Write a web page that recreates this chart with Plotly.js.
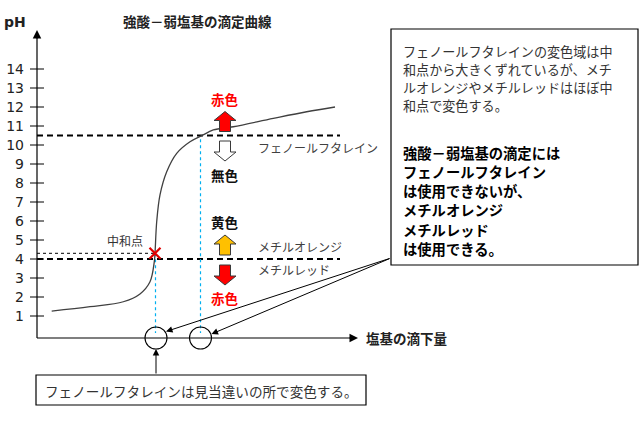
<!DOCTYPE html>
<html><head><meta charset="utf-8">
<script src="https://cdn.plot.ly/plotly-3.0.1.min.js"></script>
<style>html,body{margin:0;padding:0;background:#fff}#c{width:640px;height:430px}</style>
</head><body><div id="c"></div>
<script>
// ---- data ----
const volume = [1.47, 5.3, 8.63, 10.3, 11.3, 11.73, 11.8, 11.97, 12.3, 12.97, 13.97, 15.3, 16.47, 17.63, 19.63, 23.63, 26.97, 29.8];
const pHvals = [1.26, 1.49, 1.75, 2.16, 2.80, 3.86, 4.3, 5.96, 7.37, 8.59, 9.56, 10.17, 10.49, 10.79, 10.96, 11.4, 11.75, 12.0];
const eqVolume = 11.8, eqPH = 4.3;
const phenolVolume = 16.35;
const phenolPH = 10.5, methylPH = 4.0;
const lineEnd = 30.3;
const pHTicks = [1,2,3,4,5,6,7,8,9,10,11,12,13,14];
const tickLabels = pHTicks.map(String);
const indicatorNames = ['フェノールフタレイン', 'メチルオレンジ', 'メチルレッド'];
const colorNames = ['赤色', '無色', '黄色', '赤色'];
const noteLines = ['フェノールフタレインの変色域は中', '和点から大きくずれているが、メチ', 'ルオレンジやメチルレッドはほぼ中', '和点で変色する。'];
const boldLines = ['強酸－弱塩基の滴定には', 'フェノールフタレイン', 'は使用できないが、', 'メチルオレンジ', 'メチルレッド', 'は使用できる。'];

// pixel helpers (layout only)
const X = px => (px - 37) / 10;
const Y = py => (335 - py) / 19;
const axisY = Y(338);
const JP = '"Noto Sans CJK JP", "Noto Sans", sans-serif';

const traces = [
  {x: pHTicks.map(() => 0), y: pHTicks, mode: 'markers', hoverinfo: 'skip',
   marker: {symbol: 'line-ew', size: 10, line: {width: 1, color: '#000'}}},
  {x: [0, lineEnd], y: [phenolPH, phenolPH], mode: 'lines', hoverinfo: 'skip',
   line: {color: '#000', width: 2.2, dash: '6px,4px'}},
  {x: [0, lineEnd], y: [methylPH, methylPH], mode: 'lines', hoverinfo: 'skip',
   line: {color: '#000', width: 2.2, dash: '6px,4px'}},
  {x: [0, eqVolume], y: [eqPH, eqPH], mode: 'lines', hoverinfo: 'skip',
   line: {color: '#000', width: 1, dash: 'dot'}},
  {x: [eqVolume + 0.05, eqVolume + 0.05], y: [eqPH, Y(333)], mode: 'lines', hoverinfo: 'skip',
   line: {color: '#00B0F0', width: 1.2, dash: 'dot'}},
  {x: [phenolVolume, phenolVolume], y: [phenolPH - 0.2, Y(333)], mode: 'lines', hoverinfo: 'skip',
   line: {color: '#00B0F0', width: 1.2, dash: 'dot'}},
  {x: volume, y: pHvals, mode: 'lines', hoverinfo: 'skip',
   line: {color: '#404040', width: 1.3, shape: 'spline', smoothing: 1}},
  {x: [eqVolume + 0.1, phenolVolume], y: [axisY, axisY], mode: 'markers', hoverinfo: 'skip',
   marker: {symbol: 'circle-open', size: 22, color: '#000', line: {width: 1.1, color: '#000'}}},
  {x: [eqVolume], y: [eqPH], mode: 'markers', hoverinfo: 'skip',
   marker: {symbol: 'x-thin', size: 11, line: {width: 2.2, color: '#E00000'}}}
];

function blockArrow(cx, cy, dir, fill) {
  const p = [[-5.5,-10],[5.5,-10],[5.5,1],[11,1],[0,10],[-11,1],[-5.5,1]];
  const path = 'M' + p.map(q => q[0] + ',' + (q[1]*dir)).join('L') + 'Z';
  return {type: 'path', xref: 'x', yref: 'y', xsizemode: 'pixel', ysizemode: 'pixel',
    xanchor: cx, yanchor: cy, path: path, fillcolor: fill,
    line: {color: '#3a3a3a', width: 1}, layer: 'above'};
}

const shapes = [
  {type: 'line', x0: 0, x1: X(350), y0: axisY, y1: axisY, line: {color: '#000', width: 1.2}},
  {type: 'line', x0: 0, x1: 0, y0: axisY, y1: Y(38), line: {color: '#000', width: 1.2}},
  blockArrow(X(225), Y(121.5), 1, '#FF0000'),
  blockArrow(X(225), Y(151), -1, '#FFFFFF'),
  blockArrow(X(225), Y(245), 1, '#FFC000'),
  blockArrow(X(225), Y(275), -1, '#FF0000'),
  {type: 'rect', x0: X(391), x1: X(638), y0: Y(29), y1: Y(265), line: {color: '#000', width: 1.2}, fillcolor: 'rgba(0,0,0,0)'},
  {type: 'rect', x0: X(36), x1: X(366), y0: Y(375), y1: Y(405), line: {color: '#000', width: 1.2}, fillcolor: 'rgba(0,0,0,0)'}
];

function arrow(tx, ty, ax, ay, size) {
  return {x: tx, y: ty, ax: ax, ay: ay, xref: 'x', yref: 'y', axref: 'x', ayref: 'y',
    text: '', showarrow: true, arrowhead: 2, arrowsize: size, arrowwidth: 1, arrowcolor: '#000'};
}
function txt(x, y, t, opt) {
  return Object.assign({x: x, y: y, xref: 'x', yref: 'y', text: t, showarrow: false,
    xanchor: 'left', yanchor: 'middle', font: {family: JP, size: 12, color: '#404040'}}, opt || {});
}

const annotations = [
  arrow(0, Y(30), 0, Y(40), 1.7),
  arrow(X(358), axisY, X(348), axisY, 1.7),
  arrow(X(166), Y(331.5), X(391), Y(258), 1.3),
  arrow(X(211.5), Y(334), X(391), Y(258), 1.3),
  arrow(X(156), Y(349), X(156), Y(375), 1.3),
  txt(X(197), Y(21), '<b>強酸－弱塩基の滴定曲線</b>', {xanchor: 'center', font: {family: JP, size: 13.5, color: '#222'}}),
  txt(X(2), Y(22), '<b>pH</b>', {font: {family: '"DejaVu Sans", sans-serif', size: 14, color: '#222'}}),
  txt(X(364), Y(338), '<b>塩基の滴下量</b>', {font: {family: JP, size: 13.5, color: '#222'}}),
  txt(X(256), Y(147), indicatorNames[0]),
  txt(X(256), Y(246.5), indicatorNames[1]),
  txt(X(256), Y(269.5), indicatorNames[2]),
  txt(X(125), Y(240), '中和点', {xanchor: 'center', font: {family: JP, size: 12, color: '#333'}}),
  txt(X(225), Y(98.5), '<b>' + colorNames[0] + '</b>', {xanchor: 'center', font: {family: JP, size: 13.5, color: '#FF0000'}}),
  txt(X(225), Y(175), '<b>' + colorNames[1] + '</b>', {xanchor: 'center', font: {family: JP, size: 13.5, color: '#111'}}),
  txt(X(225), Y(222), '<b>' + colorNames[2] + '</b>', {xanchor: 'center', font: {family: JP, size: 13.5, color: '#111'}}),
  txt(X(225), Y(298), '<b>' + colorNames[3] + '</b>', {xanchor: 'center', font: {family: JP, size: 13.5, color: '#FF0000'}}),
  txt(X(201), Y(391), 'フェノールフタレインは見当違いの所で変色する。', {xanchor: 'center', font: {family: JP, size: 13.6, color: '#333'}})
];
noteLines.forEach((t, i) => annotations.push(
  txt(X(402), Y(51.5 + 18 * i), t, {borderpad: 0, font: {family: JP, size: 13.1, color: '#333'}})));
boldLines.forEach((t, i) => annotations.push(
  txt(X(401), Y(152 + 19.3 * i), '<b>' + t + '</b>', {font: {family: JP, size: 14.3, color: '#000'}})));

const layout = {
  width: 640, height: 430, margin: {l: 0, r: 0, t: 0, b: 0},
  paper_bgcolor: '#fff', plot_bgcolor: '#fff', showlegend: false,
  xaxis: {range: [X(0), X(640)], visible: false, fixedrange: true},
  yaxis: {range: [Y(430), Y(0)], anchor: 'free', position: 37/640, showgrid: false, zeroline: false,
    showline: false, ticks: '', tickvals: pHTicks, ticktext: tickLabels, ticklabelstandoff: 13,
    tickfont: {family: '"DejaVu Sans", sans-serif', size: 14, color: '#222'}, fixedrange: true},
  shapes: shapes, annotations: annotations
};
Plotly.newPlot('c', traces, layout, {staticPlot: true});
</script></body></html>
